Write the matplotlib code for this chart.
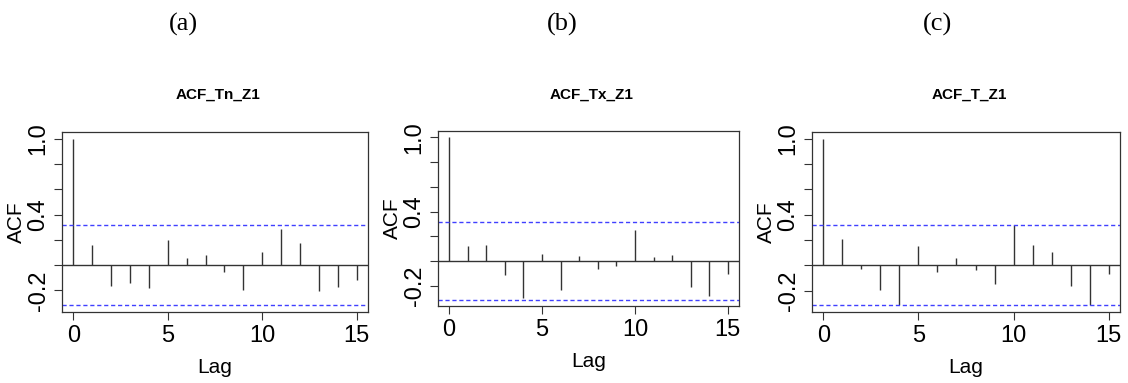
import numpy as np
import matplotlib
matplotlib.use('Agg')
from matplotlib import pyplot as plt

lags = np.arange(16)

acf_tn = [1.0, 0.159, -0.167, -0.141, -0.18, 0.199, 0.053, 0.08,
          -0.053, -0.194, 0.106, 0.284, 0.175, -0.202, -0.175, -0.119]
acf_tx = [1.0, 0.119, 0.130, -0.111, -0.297, 0.059, -0.238, 0.043,
          -0.068, -0.043, 0.251, 0.032, 0.046, -0.211, -0.284, -0.103]
acf_t = [1.0, 0.207, -0.027, -0.196, -0.313, 0.149, -0.05, 0.056,
         -0.04, -0.149, 0.319, 0.159, 0.109, -0.167, -0.313, -0.066]

conf = [0.318, 0.312, 0.316]
titles = ['ACF_Tn_Z1', 'ACF_Tx_Z1', 'ACF_T_Z1']
letters = ['(a)', '(b)', '(c)']
yticks = [-0.2, 0.0, 0.2, 0.4, 0.6, 0.8, 1.0]
ytick_labels = ['-0.2', '', '', '0.4', '', '', '1.0']
xticks = [0, 5, 10, 15]

fig = plt.figure(figsize=(11.28, 3.83), dpi=100)
W, H = 1128.0, 383.0

# axes boxes in pixels: left, top, right, bottom
boxes = [(62, 132, 368, 312), (438, 131, 739, 306), (812, 132, 1120, 312)]
letter_x = [183, 562, 937]

sans = ['Liberation Sans', 'DejaVu Sans']

for i, vals in enumerate([acf_tn, acf_tx, acf_t]):
    l, t, r, b = boxes[i]
    ax = fig.add_axes([l / W, 1 - b / H, (r - l) / W, (b - t) / H])
    ax.vlines(lags, 0, vals, color='#333333', linewidth=1.0)
    ax.axhline(0, color='#333333', linewidth=1.0)
    ax.axhline(conf[i], color='#4040ff', linestyle=(0, (3, 2)), linewidth=1.0)
    ax.axhline(-conf[i], color='#4040ff', linestyle=(0, (3, 2)), linewidth=1.0)
    lo = min(min(vals), -conf[i])
    hi = max(max(vals), conf[i])
    pad = 0.04 * (hi - lo)
    ax.set_ylim(lo - pad, hi + pad)
    ax.set_xlim(-0.6, 15.6)
    ax.set_yticks(yticks)
    ax.set_yticklabels(ytick_labels, rotation=90, va='center', family=sans, fontsize=17)
    ax.set_xticks(xticks)
    ax.set_xticklabels([str(x) for x in xticks], family=sans, fontsize=17)
    ax.tick_params(direction='out', length=6, width=0.8, color='#333333', pad=3)
    for s in ax.spines.values():
        s.set_color('#333333')
        s.set_linewidth(0.9)
    ax.set_ylabel('ACF', family=sans, fontsize=15, labelpad=1)
    ax.set_xlabel('Lag', family=sans, fontsize=15, labelpad=8)
    cx = (l + r) / 2 / W
    fig.text(cx + 0.003, 1 - 95 / H, titles[i], ha='center', va='center',
             family=sans, fontsize=11, fontweight='bold')
    fig.text(letter_x[i] / W, 1 - 24 / H, letters[i], ha='center', va='center',
             family=['Liberation Serif', 'DejaVu Serif'], fontsize=19)

plt.savefig('out.png', dpi=100)
